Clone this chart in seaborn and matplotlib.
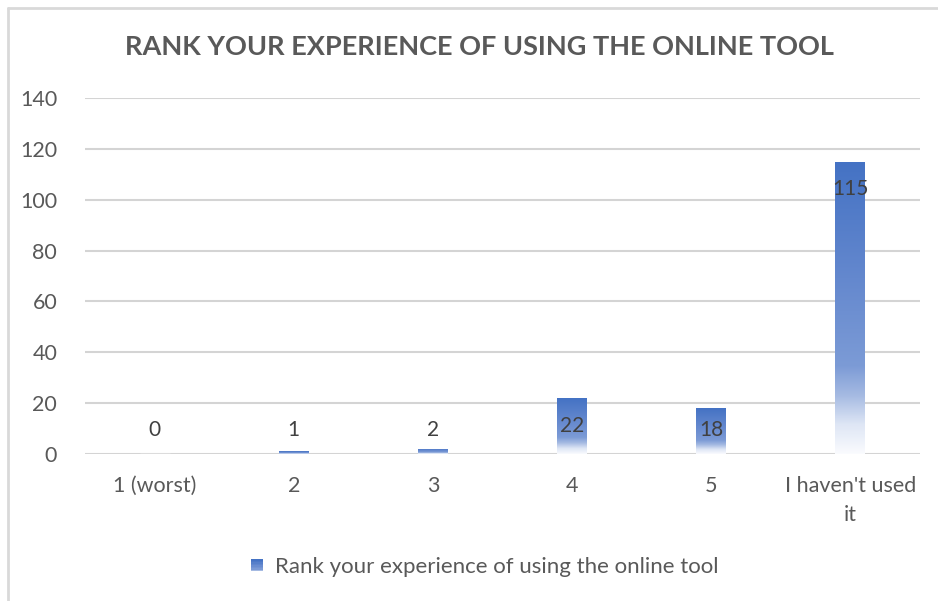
import numpy as np
import matplotlib
matplotlib.use("Agg")
import matplotlib.pyplot as plt
import seaborn as sns
from matplotlib.colors import LinearSegmentedColormap
from matplotlib.legend_handler import HandlerBase
from matplotlib.patches import Rectangle
from matplotlib.lines import Line2D

categories = ["1 (worst)", "2", "3", "4", "5", "I haven't used\nit"]
values = [0, 1, 2, 22, 18, 115]
series_name = "Rank your experience of using the online tool"
title = "RANK YOUR EXPERIENCE OF USING THE ONLINE TOOL"
yticks = [0, 20, 40, 60, 80, 100, 120, 140]

sns.set_theme(style="white")
plt.rcParams['font.family'] = ['Lato', 'DejaVu Sans']

grad = LinearSegmentedColormap.from_list("g", [
    (0.0, (250/255, 251/255, 254/255)),
    (0.10, (222/255, 230/255, 245/255)),
    (0.20, (165/255, 186/255, 226/255)),
    (0.30, (124/255, 155/255, 214/255)),
    (0.60, (100/255, 136/255, 206/255)),
    (1.0, (68/255, 114/255, 196/255)),
])

fig = plt.figure(figsize=(9.38, 6.01), dpi=100)
ax = fig.add_axes([85/938, 1-454/601, 835/938, 356/601])

sns.barplot(x=categories, y=values, width=0.215, color="#4472C4", ax=ax, zorder=3)
ax.set_ylim(0, 140)
ax.set_xlim(-0.5, len(categories) - 0.5)
ax.set_yticks(yticks)
ax.grid(axis='y', color="#d4d4d4", linewidth=1.5, zorder=0)
ax.set_axisbelow(True)
for s in ax.spines.values():
    s.set_visible(False)
ax.set_xlabel("")
ax.set_ylabel("")
ax.tick_params(axis='both', length=0, labelcolor="#595959", labelsize=15.5)
ax.tick_params(axis='y', pad=20)
ax.tick_params(axis='x', pad=16)
for lbl in ax.get_xticklabels():
    lbl.set_linespacing(1.55)

# gradient fill for bars
gimg = np.linspace(0, 1, 256).reshape(-1, 1)
for p in ax.patches:
    x0, y0 = p.get_x(), p.get_y()
    w, h = p.get_width(), p.get_height()
    if h <= 0:
        continue
    p.set_facecolor("none")
    p.set_edgecolor("none")
    im = ax.imshow(gimg, cmap=grad, origin='lower', aspect='auto',
                   extent=[x0, x0 + w, y0, y0 + h], zorder=3)
    im.set_clip_path(p)

# data labels
for i, v in enumerate(values):
    ax.annotate(str(v), xy=(i, max(v, 20.5)), xytext=(0, -20),
                textcoords='offset points', ha='center', va='center',
                fontsize=15, color="#404040", zorder=5)

# title
fig.text(479/938, 1-47/601, title, ha='center', va='center',
         fontsize=19.5, fontweight='bold', color="#595959")


class GradHandler(HandlerBase):
    def create_artists(self, legend, orig, xd, yd, width, height, fontsize, trans):
        arts = []
        n = 8
        s = height * 0.8
        x0 = xd + (width - s) / 2
        y0 = yd + (height - s) / 2
        for k in range(n):
            c = grad(1 - k / (n - 1) * 0.8)
            r = Rectangle((x0, y0 + s - (k + 1) * s / n), s, s / n,
                          facecolor=c, edgecolor='none', transform=trans)
            arts.append(r)
        return arts


h = Rectangle((0, 0), 1, 1)
fig.legend([h], [series_name], handler_map={Rectangle: GradHandler()},
           loc='center', bbox_to_anchor=(483/938, 1-567/601), frameon=False,
           fontsize=16, labelcolor="#595959", handlelength=0.8,
           handletextpad=0.4)

# chart border (top and left)
fig.add_artist(Line2D([8/938, 1], [1-8/601, 1-8/601], color="#d9d9d9", lw=2))
fig.add_artist(Line2D([8/938, 8/938], [0, 1-8/601], color="#d9d9d9", lw=2))

fig.savefig("out.png", dpi=100)
